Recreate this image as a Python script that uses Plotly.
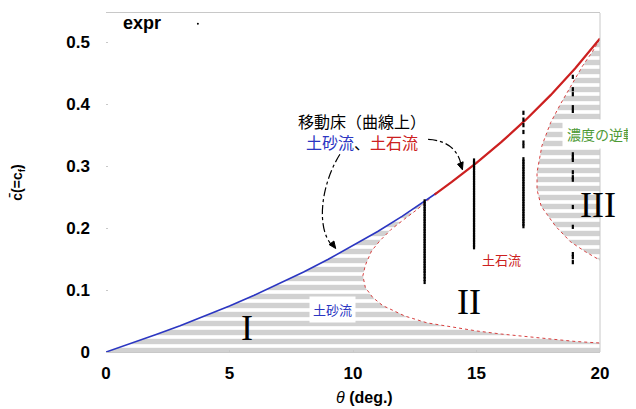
import plotly.graph_objects as go

# --- data ---
theta_blue = [0, 1, 2, 3, 4, 5, 6, 7, 8, 9, 10, 11, 12, 13, 13.4]
c_blue = [0, 0.0135, 0.0277, 0.0425, 0.0581, 0.0744, 0.0917, 0.1099, 0.1292,
          0.1496, 0.1714, 0.1945, 0.2193, 0.2459, 0.257]

theta_red = [13.3, 14, 15, 16, 17, 18, 19, 20]
c_red = [0.254, 0.2744, 0.3052, 0.3386, 0.3749, 0.4145, 0.4580, 0.5059]

# boundary of region II (lower/left branch)
theta_b2 = [13.1, 12.6, 12.1, 11.55, 11.1, 10.75, 10.5, 10.4, 10.5, 10.8, 11.2,
            12.1, 13.0, 14.0, 15.0, 16.0, 17.0, 18.0, 19.0, 20.0]
c_b2 = [0.247, 0.230, 0.215, 0.198, 0.180, 0.163, 0.140, 0.123, 0.104, 0.088,
        0.075, 0.058, 0.047, 0.040, 0.034, 0.029, 0.025, 0.021, 0.017, 0.0145]

# boundary of region III
theta_b3 = [20.0, 19.7, 19.3, 18.9, 18.4, 18.0, 17.65, 17.45, 17.45, 17.62,
            18.2, 18.8, 19.4, 20.0]
c_b3 = [0.505, 0.485, 0.462, 0.435, 0.400, 0.370, 0.333, 0.290, 0.262, 0.235,
        0.203, 0.178, 0.162, 0.148]

# experimental data (expr)
theta_e13 = 12.9
c_e13 = [0.243, 0.239, 0.235, 0.231, 0.227, 0.223, 0.219, 0.215, 0.211, 0.207,
         0.203, 0.199, 0.195, 0.191, 0.187, 0.183, 0.179, 0.175, 0.171, 0.167,
         0.163, 0.159, 0.155, 0.151, 0.147, 0.143, 0.139, 0.135, 0.131, 0.127,
         0.122, 0.118, 0.113]
theta_e15 = 14.9
c_e15 = [0.309, 0.305, 0.301, 0.297, 0.293, 0.289, 0.285, 0.281, 0.277, 0.273,
         0.269, 0.265, 0.261, 0.257, 0.253, 0.249, 0.245, 0.241, 0.237, 0.233,
         0.229, 0.225, 0.221, 0.217, 0.213, 0.209, 0.205, 0.201, 0.197, 0.193,
         0.189, 0.185, 0.181, 0.177, 0.173, 0.169]
theta_e17 = 16.9
c_e17 = [0.386, 0.375, 0.366, 0.355, 0.338, 0.332, 0.311, 0.307, 0.303, 0.299,
         0.295, 0.291, 0.287, 0.283, 0.279, 0.275, 0.271, 0.267, 0.263, 0.259,
         0.255, 0.251, 0.247, 0.243, 0.239, 0.235, 0.231, 0.227, 0.223, 0.219,
         0.215, 0.211, 0.207, 0.203]
theta_e19 = 18.9
c_e19 = [0.444, 0.424, 0.416, 0.395, 0.389, 0.344, 0.319, 0.314, 0.310, 0.290,
         0.282, 0.278, 0.234, 0.202, 0.158, 0.153, 0.145]

x_ticks = [0, 5, 10, 15, 20]
y_ticks = [0, 0.1, 0.2, 0.3, 0.4, 0.5]
y_tick_labels = ["0", "0.1", "0.2", "0.3", "0.4", "0.5"]
x_range = [0, 20]
y_range = [0, 0.547]

BLUE = "#2b36c2"
RED = "#cc2020"
CJK = "Noto Sans CJK JP"
SANS = "Liberation Sans"

fig = go.Figure()

hatch = dict(shape="-", size=9, solidity=0.6, fgcolor="#a4a4a4", bgcolor="white")

# region I hatch (below blue curve, left/below boundary II)
n_top = theta_blue.index(13)
fx1 = theta_blue[:n_top + 1] + theta_b2 + [x_range[1], x_range[0]]
fy1 = c_blue[:n_top + 1] + c_b2 + [y_range[0], y_range[0]]
fig.add_trace(go.Scatter(x=fx1, y=fy1, mode="none", fill="toself",
                         fillpattern=hatch, fillcolor="white",
                         hoverinfo="skip", showlegend=False))
# region III hatch
fig.add_trace(go.Scatter(x=theta_b3, y=c_b3, mode="none", fill="toself",
                         fillpattern=hatch, fillcolor="white",
                         hoverinfo="skip", showlegend=False))

# boundaries
fig.add_trace(go.Scatter(x=theta_b2, y=c_b2, mode="lines",
                         line=dict(color="#d84040", width=1, dash="dot"),
                         showlegend=False))
fig.add_trace(go.Scatter(x=theta_b3, y=c_b3, mode="lines",
                         line=dict(color="#d84040", width=1, dash="dot"),
                         showlegend=False))
# equilibrium curves
fig.add_trace(go.Scatter(x=theta_blue, y=c_blue, mode="lines",
                         line=dict(color=BLUE, width=1.6), showlegend=False))
fig.add_trace(go.Scatter(x=theta_red, y=c_red, mode="lines",
                         line=dict(color=RED, width=2.2), showlegend=False))

# experimental data columns
mk = dict(symbol="line-ns", size=3, line=dict(width=2.2, color="black"))
for th, cs in [(theta_e13, c_e13), (theta_e15, c_e15), (theta_e17, c_e17), (theta_e19, c_e19)]:
    fig.add_trace(go.Scatter(x=[th] * len(cs), y=cs, mode="markers", marker=mk,
                             name="expr", showlegend=False))

ann = []
ann.append(dict(x=10.36, y=0.355, xref="x", yref="y", showarrow=False,
                text=f'移動床（曲線上）<br><span style="color:{BLUE}">土砂流</span>、<span style="color:{RED}">土石流</span>',
                font=dict(family=CJK, size=16, color="black")))
ann.append(dict(x=9.19, y=0.0685, xref="x", yref="y", showarrow=False,
                text="土砂流", bgcolor="white", borderpad=3,
                font=dict(family=CJK, size=13, color=BLUE)))
ann.append(dict(x=16.03, y=0.149, xref="x", yref="y", showarrow=False,
                text="土石流", font=dict(family=CJK, size=13, color=RED)))
ann.append(dict(x=18.45, y=0.351, xref="x", yref="y", showarrow=False,
                xanchor="left", text="濃度の逆転", bgcolor="white", borderpad=4,
                font=dict(family=CJK, size=14, color="#4d9a36")))
for txt, xx, yy in [("I", 5.71, 0.0395), ("II", 14.7, 0.08), ("III", 19.92, 0.238)]:
    ann.append(dict(x=xx, y=yy, xref="x", yref="y", showarrow=False, text=txt,
                    font=dict(family="Liberation Serif", size=36, color="black")))
# legend-like label
ann.append(dict(x=0.073, y=0.97, xref="paper", yref="paper", showarrow=False,
                xanchor="center", yanchor="middle",
                text="<b>expr</b>", font=dict(family=SANS, size=18, color="black")))
# x-axis title
ann.append(dict(x=0.524, y=-0.133, xref="paper", yref="paper", showarrow=False,
                xanchor="center", yanchor="middle",
                text="<i>θ</i> <b>(deg.)</b>", font=dict(family=SANS, size=16, color="black")))

shapes = [
    dict(type="path", xref="x", yref="y",
         path="M 9.47 0.319 C 8.7 0.27, 8.5 0.2, 9.15 0.172",
         line=dict(color="black", width=1.2, dash="dashdot")),
    dict(type="path", xref="x", yref="y",
         path="M 13.04 0.343 C 13.7 0.342, 14.2 0.33, 14.36 0.305",
         line=dict(color="black", width=1.2, dash="dashdot")),
    # arrowheads (pixel-sized triangles anchored at the tips)
    dict(type="path", xref="x", yref="y", xsizemode="pixel", ysizemode="pixel",
         xanchor=9.3, yanchor=0.167,
         path="M 0 0 L -1.8 7.5 L -6.6 3.9 Z", fillcolor="black",
         line=dict(color="black", width=1)),
    dict(type="path", xref="x", yref="y", xsizemode="pixel", ysizemode="pixel",
         xanchor=14.43, yanchor=0.294,
         path="M 0 0 L 0.7 8.0 L -4.9 5.6 Z", fillcolor="black",
         line=dict(color="black", width=1)),
    dict(type="line", xref="paper", yref="paper", x0=1, x1=1, y0=0, y1=1,
         line=dict(color="#c8c8c8", width=1)),
    dict(type="circle", xref="paper", yref="paper", x0=0.184, x1=0.188,
         y0=0.965, y1=0.971, fillcolor="black", line=dict(width=0)),
]

fig.update_layout(
    width=636, height=409,
    margin=dict(l=98, r=44, t=5, b=65, autoexpand=False),
    plot_bgcolor="white", paper_bgcolor="white",
    annotations=ann, shapes=shapes,
    showlegend=False,
)
fig.update_xaxes(range=x_range, tickvals=x_ticks, showgrid=False, zeroline=False,
                 automargin=False,
                 showline=True, mirror=True, linecolor="#c8c8c8", linewidth=1,
                 ticks="inside", ticklen=2, tickcolor="#c8c8c8",
                 tickfont=dict(family=SANS, size=17, color="black", weight="bold"),
                 ticklabelstandoff=6)
fig.update_yaxes(range=y_range, tickvals=y_ticks, ticktext=y_tick_labels,
                 showgrid=False, zeroline=False, showline=False, automargin=False,
                 ticks="inside", ticklen=2, tickcolor="#c8c8c8",
                 tickfont=dict(family=SANS, size=17, color="black", weight="bold"),
                 ticklabelstandoff=15,
                 title=dict(text="<b>c̄(=c<sub>f</sub>)</b>", standoff=41,
                            font=dict(family=SANS, size=14, color="black")))

fig.write_html("out.html")
